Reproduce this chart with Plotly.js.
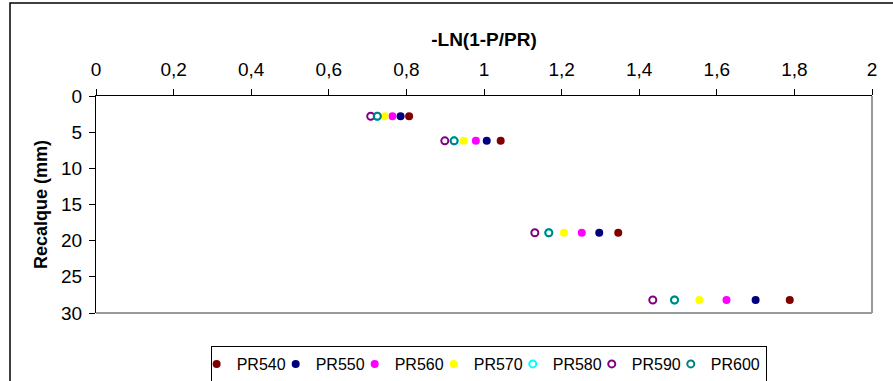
<!DOCTYPE html>
<html>
<head>
<meta charset="utf-8">
<script src="https://cdn.plot.ly/plotly-3.0.1.min.js"></script>
<style>
  html, body { margin: 0; padding: 0; background: #fff; }
  #chart { width: 893px; height: 381px; }
</style>
</head>
<body>
<div id="chart"></div>
<script>
// Settlement depth (mm) for each load step
const recalque = [2.8, 6.2, 18.9, 28.2];

// -LN(1-P/PR) for each assumed rupture load PR
const pr540 = [0.807, 1.043, 1.346, 1.788];
const pr550 = [0.785, 1.007, 1.297, 1.700];
const pr560 = [0.764, 0.979, 1.252, 1.625];
const pr570 = [0.744, 0.948, 1.206, 1.555];
const pr580 = [0.725, 0.923, 1.167, 1.491];
const pr590 = [0.708, 0.899, 1.131, 1.435];
const pr600 = [0.725, 0.923, 1.167, 1.491];

const seriesNames = ['PR540', 'PR550', 'PR560', 'PR570', 'PR580', 'PR590', 'PR600'];
const seriesValues = [pr540, pr550, pr560, pr570, pr580, pr590, pr600];

const styles = [
  { color: '#800000', open: false },
  { color: '#000080', open: false },
  { color: '#FF00FF', open: false },
  { color: '#FFFF00', open: false },
  { color: '#00FFFF', open: true },
  { color: '#800080', open: true },
  { color: '#008080', open: true }
];

const traces = seriesNames.map((name, i) => {
  const s = styles[i];
  return {
    type: 'scatter',
    mode: 'markers',
    name: name,
    x: seriesValues[i],
    y: recalque,
    marker: s.open
      ? { symbol: 'circle-open', size: 7, color: s.color, line: { color: s.color, width: 2 } }
      : { symbol: 'circle', size: 8, color: s.color, line: { width: 0 } },
    cliponaxis: false
  };
});

const font = { family: 'Liberation Sans, Arial, sans-serif', color: '#000' };

const layout = {
  width: 893,
  height: 381,
  margin: { l: 96, r: 21, t: 96, b: 68, pad: 0, autoexpand: false },
  paper_bgcolor: '#fff',
  plot_bgcolor: '#fff',
  separators: ', ',
  font: Object.assign({ size: 17 }, font),
  showlegend: true,
  xaxis: {
    side: 'top',
    range: [0, 2],
    dtick: 0.2,
    tick0: 0,
    ticks: 'outside',
    ticklen: 6,
    tickcolor: '#000',
    ticklabelstandoff: 5,
    showline: true,
    linecolor: '#000',
    linewidth: 1,
    showgrid: false,
    zeroline: false,
    automargin: false,
    tickfont: Object.assign({ size: 19 }, font),
    title: { text: '<b>-LN(1-P/PR)</b>', font: Object.assign({ size: 19 }, font), standoff: 7 }
  },
  yaxis: {
    range: [30, 0],
    dtick: 5,
    tick0: 0,
    ticks: 'outside',
    ticklen: 6,
    tickcolor: '#000',
    ticklabelstandoff: 3,
    showline: true,
    linecolor: '#000',
    linewidth: 1,
    showgrid: false,
    zeroline: false,
    automargin: false,
    tickfont: Object.assign({ size: 19 }, font),
    title: { text: '<b>Recalque (mm)</b>', font: Object.assign({ size: 18 }, font), standoff: 8 }
  },
  legend: {
    orientation: 'h',
    x: 0.506,
    xanchor: 'center',
    y: -0.152,
    yanchor: 'top',
    bordercolor: '#000',
    borderwidth: 1,
    bgcolor: '#fff',
    itemwidth: 30,
    indentation: -15,
    font: Object.assign({ size: 16 }, font)
  },
  shapes: [
    // grey right and bottom edges of the plot area
    { type: 'line', xref: 'paper', yref: 'paper', x0: 1, x1: 1, y0: 0, y1: 1,
      line: { color: '#999', width: 2 } },
    { type: 'line', xref: 'paper', yref: 'paper', x0: 0, x1: 1, y0: 0, y1: 0,
      line: { color: '#999', width: 2 } },
    // outer chart frame
    { type: 'rect', xref: 'paper', yref: 'paper', x0: -0.1108, x1: 1.2, y0: -0.5, y1: 1.4286,
      line: { color: '#000', width: 1.5 }, layer: 'below' }
  ]
};

Plotly.newPlot('chart', traces, layout, { displayModeBar: false, staticPlot: true });
</script>
</body>
</html>
